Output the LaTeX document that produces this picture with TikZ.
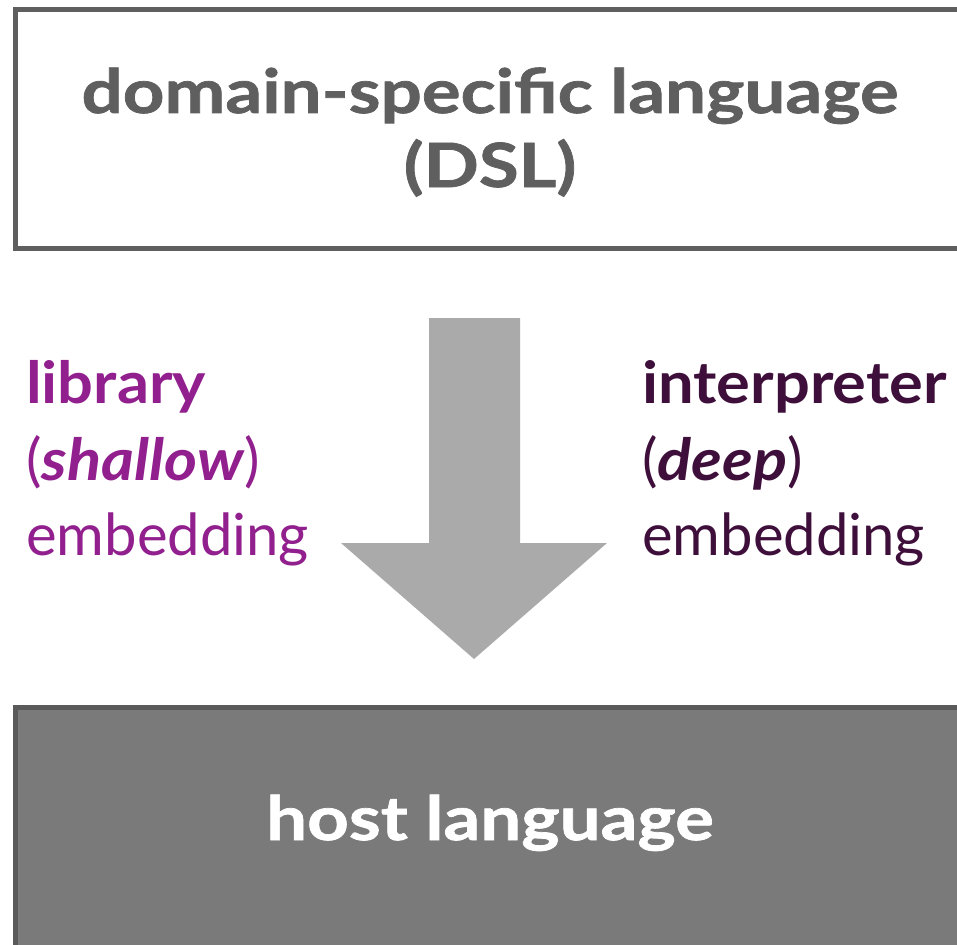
\documentclass[tikz,border=0pt]{standalone}
\usepackage{fontspec}
\setmainfont{Lato}
\newfontfamily\bigfont[FakeStretch=1.19,FakeBold=1.2]{Lato}
\newfontfamily\labfont[FakeStretch=1.09]{Lato}
\definecolor{boxgray}{HTML}{5F5F5F}
\definecolor{hostfill}{HTML}{7A7A7A}
\definecolor{hostdraw}{HTML}{5A5A5A}
\definecolor{arrowgray}{HTML}{AAAAAA}
\definecolor{libpurple}{HTML}{911F8E}
\definecolor{intpurple}{HTML}{3F0F3B}
\begin{document}
\begin{tikzpicture}[x=1pt,y=-1pt,
  bigtext/.style={font=\bigfont\fontsize{61}{72}\selectfont\bfseries, inner sep=0pt},
  labtext/.style={font=\fontsize{58}{70}\selectfont, inner sep=0pt, anchor=base west},
  box/.style={draw, line width=5pt, inner sep=0pt}]
\useasboundingbox (0,0) rectangle (957,944);
% top box
\node (dsl) [box, draw=boxgray, fill=white, minimum width=1000pt, minimum height=239pt, anchor=north west] at (13,7) {};
\node (dsl1) [bigtext, text=boxgray, anchor=base] at (490,113) {domain-specific language};
\node (dsl2) [bigtext, text=boxgray, anchor=base] at (490,187) {(DSL)};
% bottom box
\node (host) [box, draw=hostdraw, fill=hostfill, minimum width=1000pt, minimum height=300pt, anchor=north west] at (13,705) {};
\node (hostt) [bigtext, text=white, anchor=base] at (490,840) {host language};
% arrow
\coordinate (a1) at (429,318);
\coordinate (a2) at (520,318);
\coordinate (a3) at (520,543);
\coordinate (a4) at (607,543);
\coordinate (tip) at (474,659);
\coordinate (a6) at (341,543);
\coordinate (a7) at (429,543);
\fill[arrowgray] (a1) -- (a2) -- (a3) -- (a4) -- (tip) -- (a6) -- (a7) -- cycle;
% left label
\node (lib1) [labtext, text=libpurple] at (26,403) {\labfont\bfseries library};
\node (lib2) [labtext, text=libpurple] at (26,480) {(\labfont\bfseries\itshape shallow\/\normalfont)};
\node (lib3) [labtext, text=libpurple] at (26,555) {embedding};
% right label
\node (int1) [labtext, text=intpurple] at (642,403) {\labfont\bfseries interpreter};
\node (int2) [labtext, text=intpurple] at (642,480) {(\labfont\bfseries\itshape deep\/\normalfont)};
\node (int3) [labtext, text=intpurple] at (642,555) {embedding};
\end{tikzpicture}
\end{document}
